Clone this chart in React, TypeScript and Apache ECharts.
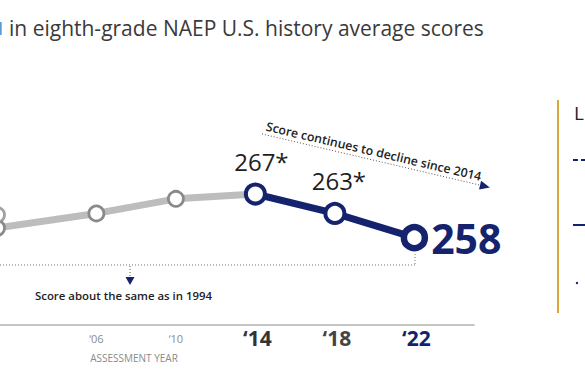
import React, { useEffect, useRef } from "react";
import * as echarts from "echarts";

const NAVY = "#15236e";
const FONT = "'Open Sans', sans-serif";

// Data
const earlyYears = [2001, 2006, 2010, 2014];
const earlyScores = [260, 263, 266, 267];
const altYears = [2001];
const altScores = [262.7];
const recentYears = [2014, 2018, 2022];
const recentScores = [267, 263, 258];
const recentLabels = ["267*", "263*", "258"];
const tickYears = [2006, 2010, 2014, 2018, 2022];
const tickLabels = ["‘06", "‘10", "‘14", "‘18", "‘22"];
const tickStyles = ["s", "s", "b14", "b18", "b22"];

const deg = Math.PI / 180;

export default function App() {
  const ref = useRef<HTMLDivElement>(null);
  useEffect(() => {
    if (!ref.current) return;
    const chart = echarts.init(ref.current, null, { renderer: "svg" });

    const grayCircle = {
      color: "#fff",
      borderColor: "#8a8a8a",
      borderWidth: 2.8,
    };

    const angle = 13.2 * deg;
    const ax0 = 262, ay0 = 134;
    const len = 228;
    const ax1 = ax0 + len * Math.cos(angle);
    const ay1 = ay0 + len * Math.sin(angle);
    const ux = Math.cos(angle), uy = Math.sin(angle);
    const px = -uy, py = ux;
    const tip = [ax1 + ux * 6, ay1 + uy * 6];
    const bl = [ax1 - ux * 4 + px * 4.5, ay1 - uy * 4 + py * 4.5];
    const br = [ax1 - ux * 4 - px * 4.5, ay1 - uy * 4 - py * 4.5];

    chart.setOption({
      animation: false,
      textStyle: { fontFamily: FONT },
      grid: { left: 0, top: 155.2, width: 474, height: 169.8, containLabel: false },
      xAxis: {
        type: "value",
        min: 2001.15,
        max: 2025.0,
        splitLine: { show: false },
        axisTick: { show: false },
        axisLine: { lineStyle: { color: "#b3b3b3", width: 1.5 } },
        axisLabel: {
          customValues: tickYears,
          margin: 6,
          formatter: (v: number) => {
            const i = tickYears.indexOf(v);
            if (i < 0) return "";
            return `{${tickStyles[i]}|${tickLabels[i]}}`;
          },
          rich: {
            s: { fontSize: 11, color: "#8c8c8c", lineHeight: 14, fontFamily: FONT },
            b14: { fontSize: 21, fontWeight: "bold", color: "#333", lineHeight: 14, fontFamily: FONT, padding: [0, 0, 0, 4] },
            b18: { fontSize: 21, fontWeight: "bold", color: "#444", lineHeight: 14, fontFamily: FONT, padding: [0, 0, 0, 4] },
            b22: { fontSize: 21, fontWeight: "bold", color: NAVY, lineHeight: 14, fontFamily: FONT, padding: [0, 0, 0, 4] },
          },
        },
      },
      yAxis: {
        type: "value",
        min: 240,
        max: 275,
        show: false,
        splitLine: { show: false },
      },
      series: [
        {
          type: "line",
          z: 2,
          data: earlyYears.map((y, i) => ({
            value: [y, earlyScores[i]],
            symbolSize: y === 2014 ? 0 : 15,
          })),
          symbol: "circle",
          lineStyle: { color: "#bdbdbd", width: 7 },
          itemStyle: grayCircle,
          clip: false,
        },
        {
          type: "scatter",
          z: 3,
          data: altYears.map((y, i) => [y, altScores[i]]),
          symbol: "circle",
          symbolSize: 15,
          itemStyle: grayCircle,
          clip: false,
        },
        {
          type: "line",
          z: 4,
          symbol: "circle",
          lineStyle: { color: NAVY, width: 7 },
          itemStyle: { color: "#fff", borderColor: NAVY, borderWidth: 4 },
          clip: false,
          data: recentYears.map((y, i) => {
            const last = i === recentYears.length - 1;
            return {
              value: [y, recentScores[i]],
              symbolSize: last ? 21 : 19,
              itemStyle: last
                ? { color: "#fff", borderColor: NAVY, borderWidth: 6.5 }
                : undefined,
              label: last
                ? {
                    show: true,
                    position: "right",
                    distance: 3,
                    formatter: recentLabels[i],
                    fontSize: 41,
                    fontWeight: "bold",
                    color: NAVY,
                    fontFamily: FONT,
                  }
                : {
                    show: true,
                    position: "top",
                    distance: 5,
                    offset: [i === 0 ? 6 : 4, -4],
                    formatter: recentLabels[i],
                    fontSize: 24,
                    color: "#1e1e1e",
                    fontFamily: FONT,
                  },
            };
          }),
        },
      ],
      graphic: [
        { type: "rect", shape: { x: 0, y: 22, width: 1.7, height: 13 }, style: { fill: "#5b9bd5" } },
        {
          type: "text",
          x: 9,
          y: 28,
          style: {
            text: "in eighth-grade NAEP U.S. history average scores",
            fontSize: 21,
            fill: "#3a3a3a",
            fontFamily: FONT,
            verticalAlign: "middle",
          },
        },
        {
          type: "text",
          x: 265,
          y: 132,
          rotation: -angle,
          style: {
            text: "Score continues to decline since 2014",
            fontSize: 12.3,
            fontWeight: 600,
            fill: "#222",
            fontFamily: FONT,
            verticalAlign: "bottom",
          },
        },
        {
          type: "line",
          shape: { x1: ax0, y1: ay0, x2: ax1, y2: ay1 },
          style: { stroke: "#555", lineWidth: 1, lineDash: [1, 2] },
        },
        { type: "polygon", shape: { points: [tip, bl, br] }, style: { fill: NAVY } },
        {
          type: "line",
          shape: { x1: 0, y1: 265, x2: 415, y2: 265 },
          style: { stroke: "#777", lineWidth: 1, lineDash: [1, 2] },
        },
        {
          type: "line",
          shape: { x1: 415, y1: 254, x2: 415, y2: 265 },
          style: { stroke: "#777", lineWidth: 1, lineDash: [1, 2] },
        },
        {
          type: "line",
          shape: { x1: 130, y1: 266, x2: 130, y2: 277 },
          style: { stroke: "#555", lineWidth: 1, lineDash: [1, 2] },
        },
        { type: "polygon", shape: { points: [[125.5, 277], [134.5, 277], [130, 285]] }, style: { fill: NAVY } },
        {
          type: "text",
          x: 35,
          y: 295,
          style: {
            text: "Score about the same as in 1994",
            fontSize: 11.4,
            fontWeight: 600,
            fill: "#222",
            fontFamily: FONT,
            verticalAlign: "middle",
          },
        },
        {
          type: "text",
          x: 134,
          y: 358,
          style: {
            text: "ASSESSMENT YEAR",
            fontSize: 10,
            fill: "#8a8a8a",
            fontFamily: FONT,
            align: "center",
            verticalAlign: "middle",
          },
        },
        {
          type: "line",
          shape: { x1: 558, y1: 100, x2: 558, y2: 313 },
          style: { stroke: "#d9a63b", lineWidth: 2 },
        },
        {
          type: "text",
          x: 574,
          y: 113,
          style: { text: "L", fontSize: 19, fill: "#222", fontFamily: FONT, verticalAlign: "middle" },
        },
        {
          type: "line",
          shape: { x1: 573, y1: 160, x2: 592, y2: 160 },
          style: { stroke: NAVY, lineWidth: 2, lineDash: [5, 3] },
        },
        {
          type: "line",
          shape: { x1: 573, y1: 225, x2: 592, y2: 225 },
          style: { stroke: NAVY, lineWidth: 2 },
        },
        { type: "circle", shape: { cx: 577, cy: 283, r: 1.2 }, style: { fill: NAVY } },
      ],
    });
    return () => chart.dispose();
  }, []);
  return <div ref={ref} style={{ width: 585, height: 390, position: "absolute", left: 0, top: 0 }} />;
}
